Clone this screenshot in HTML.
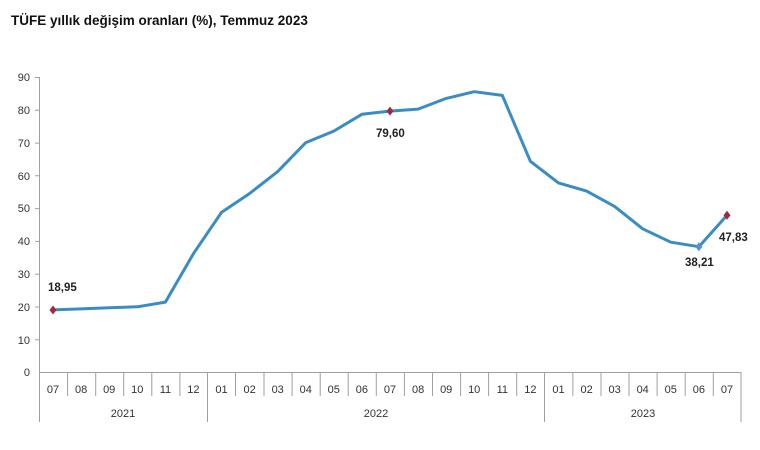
<!DOCTYPE html>
<html><head><meta charset="utf-8"><style>body{margin:0;background:#fff}svg{display:block}</style></head><body>
<svg width="760" height="450" xmlns="http://www.w3.org/2000/svg" font-family="Liberation Sans, sans-serif">
<rect width="760" height="450" fill="#fff"/>
<text x="11" y="25" font-size="13.5" font-weight="bold" fill="#111">TÜFE yıllık değişim oranları (%), Temmuz 2023</text>
<g stroke="#a0a0a0" stroke-width="1" fill="none">
<line x1="39.5" y1="77" x2="39.5" y2="422"/>
<line x1="39" y1="372.5" x2="741" y2="372.5"/>
<path d="M35 77.5H39.5M35 110.3H39.5M35 143.1H39.5M35 175.8H39.5M35 208.6H39.5M35 241.4H39.5M35 274.2H39.5M35 307H39.5M35 339.7H39.5"/>
<path d="M67.6 372V396M95.7 372V396M123.7 372V396M151.8 372V396M179.9 372V396M235.5 372V396M264 372V396M292.1 372V396M320.2 372V396M348.2 372V396M376.3 372V396M404.4 372V396M432.5 372V396M460.6 372V396M488.6 372V396M516.7 372V396M572.9 372V396M601 372V396M629 372V396M657.1 372V396M685.2 372V396M713.3 372V396"/>
<path d="M207.5 372V422M544.5 372V422M741 372V422"/>
</g>
<g font-size="11" fill="#333" text-anchor="end">
<text x="30" y="81">90</text><text x="30" y="114">80</text><text x="30" y="147">70</text><text x="30" y="180">60</text><text x="30" y="212">50</text><text x="30" y="245">40</text><text x="30" y="278">30</text><text x="30" y="311">20</text><text x="30" y="344">10</text><text x="30" y="376">0</text>
</g>
<g font-size="11" fill="#333" text-anchor="middle">
<text x="53" y="393">07</text><text x="81.1" y="393">08</text><text x="109.2" y="393">09</text><text x="137.3" y="393">10</text><text x="165.4" y="393">11</text><text x="193.4" y="393">12</text>
<text x="221.5" y="393">01</text><text x="249.6" y="393">02</text><text x="277.7" y="393">03</text><text x="305.8" y="393">04</text><text x="333.8" y="393">05</text><text x="361.9" y="393">06</text><text x="390" y="393">07</text><text x="418.1" y="393">08</text><text x="446.2" y="393">09</text><text x="474.2" y="393">10</text><text x="502.3" y="393">11</text><text x="530.4" y="393">12</text>
<text x="558.5" y="393">01</text><text x="586.6" y="393">02</text><text x="614.6" y="393">03</text><text x="642.7" y="393">04</text><text x="670.8" y="393">05</text><text x="698.9" y="393">06</text><text x="727" y="393">07</text>
<text x="123" y="417">2021</text><text x="376" y="417">2022</text><text x="643" y="417">2023</text>
</g>
<polyline fill="none" stroke="#3a8cc4" stroke-width="3" stroke-linejoin="round" points="53,309.9 81.1,308.9 109.2,307.8 137.3,306.8 165.4,302.1 193.4,253.7 221.5,212.4 249.6,193.5 277.7,171.6 305.8,142.6 333.8,131.1 361.9,114.3 390,111.1 418.1,109.1 446.2,98.4 474.2,91.7 502.3,95.4 530.4,161.3 558.5,182.9 586.6,191.1 614.6,206.4 642.7,228.8 670.8,242.2 698.9,246.7 727,215.2"/>
<g fill="#9b2a44">
<path d="M53 305.5L56.5 310L53 314.5L49.5 310Z"/>
<path d="M390 106.6L393.5 111.1L390 115.6L386.5 111.1Z"/>
<path d="M727 210.7L730.5 215.2L727 219.7L723.5 215.2Z"/>
</g>
<path d="M698.9 242.2L702.4 246.7L698.9 251.2L695.4 246.7Z" fill="#5a8fc8"/>
<g font-size="11.5" font-weight="bold" fill="#222">
<text x="48" y="291">18,95</text>
<text x="376" y="137">79,60</text>
<text x="719" y="241">47,83</text>
<text x="685" y="266">38,21</text>
</g>
</svg>
</body></html>
